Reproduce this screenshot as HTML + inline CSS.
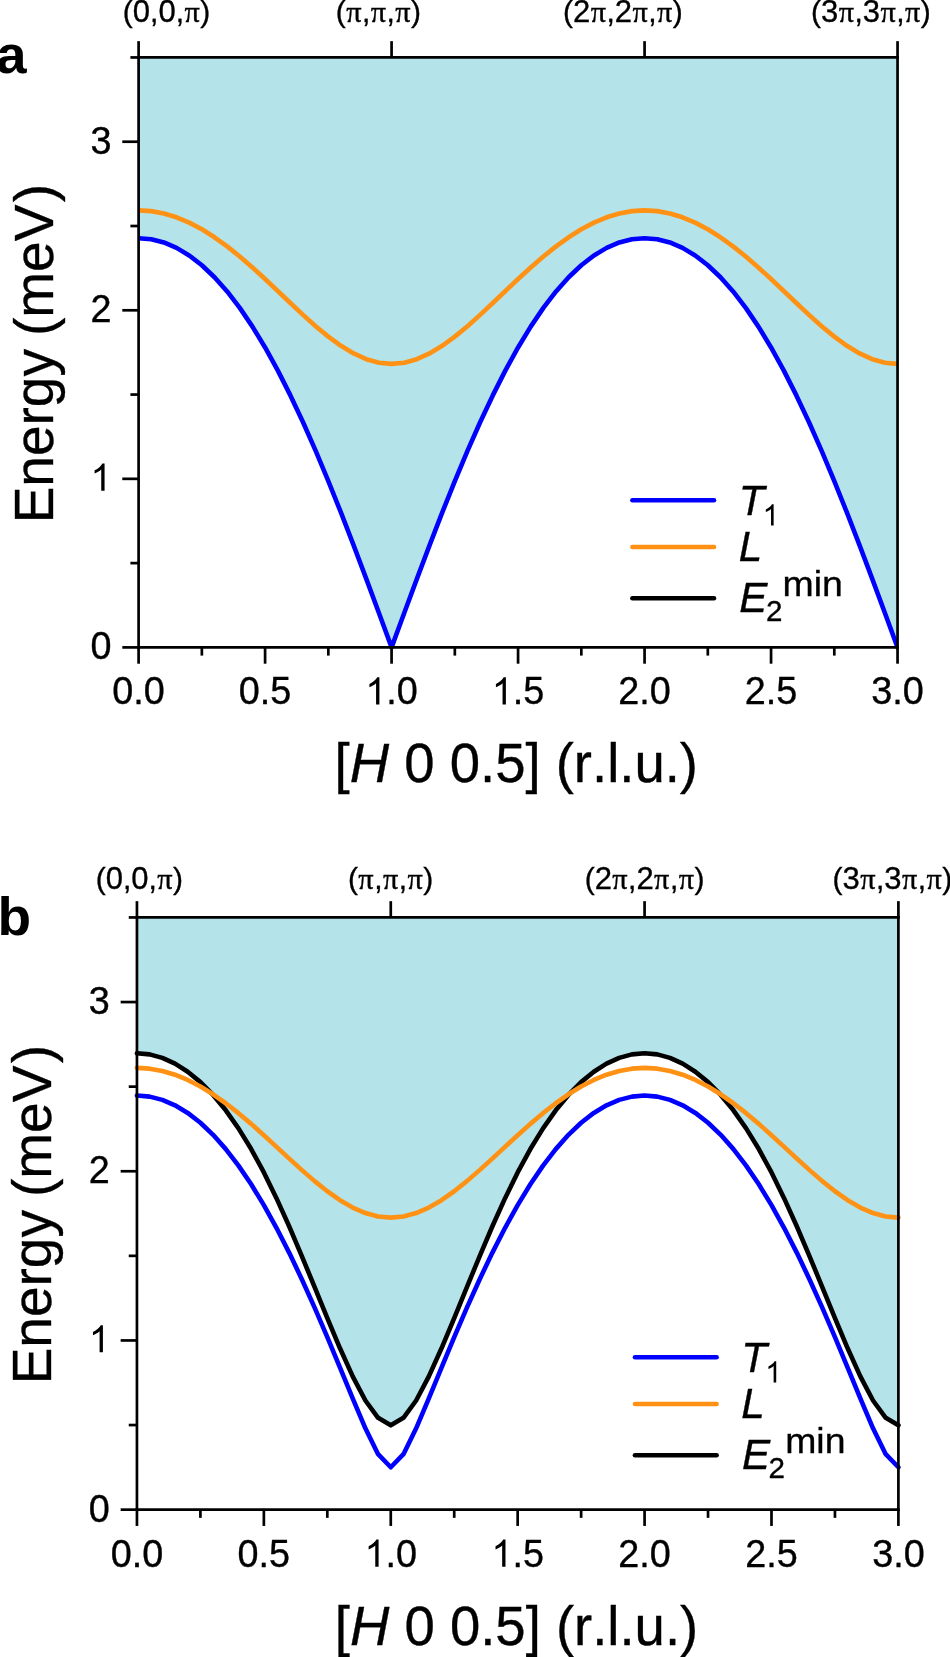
<!DOCTYPE html>
<html lang="en"><head><meta charset="utf-8"><title>Dispersion</title>
<style>
html,body{margin:0;padding:0;background:#fff;}
body{width:950px;height:1657px;overflow:hidden;font-family:"Liberation Sans",sans-serif;}
svg{display:block;will-change:transform;}
svg text{font-family:"Liberation Sans",sans-serif;fill:#000;font-kerning:none;}
</style></head><body>
<svg width="950" height="1657" viewBox="0 0 950 1657">
<rect width="950" height="1657" fill="#fff"/>
<g id="panel-a">
<path d="M138.6,57.45 L138.6,238.18 L151.25,239.26 L163.9,242.49 L176.55,247.88 L189.2,255.45 L201.85,265.23 L214.5,277.22 L227.14,291.45 L239.79,307.91 L252.44,326.59 L265.09,347.44 L277.74,370.41 L290.39,395.4 L303.04,422.29 L315.69,450.93 L328.34,481.13 L340.99,512.68 L353.64,545.36 L366.28,578.88 L378.93,613 L391.58,647.4 L404.23,613 L416.88,578.88 L429.53,545.36 L442.18,512.68 L454.83,481.13 L467.48,450.93 L480.13,422.29 L492.78,395.4 L505.43,370.41 L518.07,347.44 L530.72,326.59 L543.37,307.91 L556.02,291.45 L568.67,277.22 L581.32,265.23 L593.97,255.45 L606.62,247.88 L619.27,242.49 L631.92,239.26 L644.57,238.18 L657.22,239.26 L669.87,242.49 L682.51,247.88 L695.16,255.45 L707.81,265.23 L720.46,277.22 L733.11,291.45 L745.76,307.91 L758.41,326.59 L771.06,347.44 L783.71,370.41 L796.36,395.4 L809.01,422.29 L821.66,450.93 L834.3,481.13 L846.95,512.68 L859.6,545.36 L872.25,578.88 L884.9,613 L897.55,647.4 L897.55,57.45 Z" fill="#b4e4ea"/>
<clipPath id="clip-a"><rect x="138.6" y="52.45" width="758.95" height="599.95"/></clipPath>
<g clip-path="url(#clip-a)">
<path d="M138.6,210.35 L151.25,211.13 L163.9,213.46 L176.55,217.31 L189.2,222.61 L201.85,229.3 L214.5,237.27 L227.14,246.39 L239.79,256.52 L252.44,267.47 L265.09,279.03 L277.74,290.97 L290.39,303.02 L303.04,314.86 L315.69,326.19 L328.34,336.63 L340.99,345.84 L353.64,353.45 L366.28,359.16 L378.93,362.69 L391.58,363.89 L404.23,362.69 L416.88,359.16 L429.53,353.45 L442.18,345.84 L454.83,336.63 L467.48,326.19 L480.13,314.86 L492.78,303.02 L505.43,290.97 L518.07,279.03 L530.72,267.47 L543.37,256.52 L556.02,246.39 L568.67,237.27 L581.32,229.3 L593.97,222.61 L606.62,217.31 L619.27,213.46 L631.92,211.13 L644.57,210.35 L657.22,211.13 L669.87,213.46 L682.51,217.31 L695.16,222.61 L707.81,229.3 L720.46,237.27 L733.11,246.39 L745.76,256.52 L758.41,267.47 L771.06,279.03 L783.71,290.97 L796.36,303.02 L809.01,314.86 L821.66,326.19 L834.3,336.63 L846.95,345.84 L859.6,353.45 L872.25,359.16 L884.9,362.69 L897.55,363.89" fill="none" stroke="#ff9214" stroke-width="4.6" stroke-linejoin="round" stroke-linecap="round"/>
<path d="M138.6,238.18 L151.25,239.26 L163.9,242.49 L176.55,247.88 L189.2,255.45 L201.85,265.23 L214.5,277.22 L227.14,291.45 L239.79,307.91 L252.44,326.59 L265.09,347.44 L277.74,370.41 L290.39,395.4 L303.04,422.29 L315.69,450.93 L328.34,481.13 L340.99,512.68 L353.64,545.36 L366.28,578.88 L378.93,613 L391.58,647.4 L404.23,613 L416.88,578.88 L429.53,545.36 L442.18,512.68 L454.83,481.13 L467.48,450.93 L480.13,422.29 L492.78,395.4 L505.43,370.41 L518.07,347.44 L530.72,326.59 L543.37,307.91 L556.02,291.45 L568.67,277.22 L581.32,265.23 L593.97,255.45 L606.62,247.88 L619.27,242.49 L631.92,239.26 L644.57,238.18 L657.22,239.26 L669.87,242.49 L682.51,247.88 L695.16,255.45 L707.81,265.23 L720.46,277.22 L733.11,291.45 L745.76,307.91 L758.41,326.59 L771.06,347.44 L783.71,370.41 L796.36,395.4 L809.01,422.29 L821.66,450.93 L834.3,481.13 L846.95,512.68 L859.6,545.36 L872.25,578.88 L884.9,613 L897.55,647.4" fill="none" stroke="#0000ff" stroke-width="4.6" stroke-linejoin="round" stroke-linecap="round"/>
</g>
<g stroke="#000" stroke-width="2.7" fill="none" stroke-linecap="butt">
<path d="M138.6,56.1 V648.75"/>
<path d="M897.55,56.1 V648.75"/>
<path d="M137.25,57.45 H898.9"/>
<path d="M137.25,647.4 H898.9"/>
<path d="M138.6,647.4 V663.7"/>
<path d="M201.85,647.4 V655.6"/>
<path d="M265.09,647.4 V663.7"/>
<path d="M328.34,647.4 V655.6"/>
<path d="M391.58,647.4 V663.7"/>
<path d="M454.83,647.4 V655.6"/>
<path d="M518.07,647.4 V663.7"/>
<path d="M581.32,647.4 V655.6"/>
<path d="M644.57,647.4 V663.7"/>
<path d="M707.81,647.4 V655.6"/>
<path d="M771.06,647.4 V663.7"/>
<path d="M834.3,647.4 V655.6"/>
<path d="M897.55,647.4 V663.7"/>
<path d="M138.6,57.45 V41.15"/>
<path d="M391.58,57.45 V41.15"/>
<path d="M644.57,57.45 V41.15"/>
<path d="M897.55,57.45 V41.15"/>
<path d="M138.6,647.4 H122.3"/>
<path d="M138.6,563.12 H130.4"/>
<path d="M138.6,478.84 H122.3"/>
<path d="M138.6,394.56 H130.4"/>
<path d="M138.6,310.29 H122.3"/>
<path d="M138.6,226.01 H130.4"/>
<path d="M138.6,141.73 H122.3"/>
<path d="M138.6,57.45 H130.4"/>
</g>
<text transform="translate(138.6,704.4) scale(1,1.05)" font-size="37.8" text-anchor="middle" stroke="#000" stroke-width="0.35">0.0</text>
<text transform="translate(265.09,704.4) scale(1,1.05)" font-size="37.8" text-anchor="middle" stroke="#000" stroke-width="0.35">0.5</text>
<path transform="translate(365.31,704.4) scale(0.01846,-0.01846)" d="M763 0H583V1147Q518 1085 412.5 1023T223 930V1104Q373 1174.5 485.5 1275T644 1470H763Z" fill="#000"/>
<text transform="translate(386.33,704.4) scale(1,1.05)" font-size="37.8" text-anchor="start" stroke="#000" stroke-width="0.35">.0</text>
<path transform="translate(491.8,704.4) scale(0.01846,-0.01846)" d="M763 0H583V1147Q518 1085 412.5 1023T223 930V1104Q373 1174.5 485.5 1275T644 1470H763Z" fill="#000"/>
<text transform="translate(512.82,704.4) scale(1,1.05)" font-size="37.8" text-anchor="start" stroke="#000" stroke-width="0.35">.5</text>
<text transform="translate(644.57,704.4) scale(1,1.05)" font-size="37.8" text-anchor="middle" stroke="#000" stroke-width="0.35">2.0</text>
<text transform="translate(771.06,704.4) scale(1,1.05)" font-size="37.8" text-anchor="middle" stroke="#000" stroke-width="0.35">2.5</text>
<text transform="translate(897.55,704.4) scale(1,1.05)" font-size="37.8" text-anchor="middle" stroke="#000" stroke-width="0.35">3.0</text>
<text transform="translate(111.5,659.3) scale(1,1.05)" font-size="37.8" text-anchor="end" stroke="#000" stroke-width="0.35">0</text>
<path transform="translate(90.48,490.74) scale(0.01846,-0.01846)" d="M763 0H583V1147Q518 1085 412.5 1023T223 930V1104Q373 1174.5 485.5 1275T644 1470H763Z" fill="#000"/>
<text transform="translate(111.5,322.19) scale(1,1.05)" font-size="37.8" text-anchor="end" stroke="#000" stroke-width="0.35">2</text>
<text transform="translate(111.5,153.63) scale(1,1.05)" font-size="37.8" text-anchor="end" stroke="#000" stroke-width="0.35">3</text>
<text transform="translate(166.5,21.9)" font-size="30" text-anchor="middle" stroke="#000" stroke-width="0.35">(<tspan font-size="31">0</tspan>,<tspan font-size="31">0</tspan>,<tspan font-family="Liberation Serif" font-size="30.3" dx="0.4" letter-spacing="0.5">π</tspan>)</text>
<text transform="translate(378.4,21.9)" font-size="30" text-anchor="middle" stroke="#000" stroke-width="0.35">(<tspan font-family="Liberation Serif" font-size="30.3" dx="0.4" letter-spacing="0.5">π</tspan>,<tspan font-family="Liberation Serif" font-size="30.3" dx="0.4" letter-spacing="0.5">π</tspan>,<tspan font-family="Liberation Serif" font-size="30.3" dx="0.4" letter-spacing="0.5">π</tspan>)</text>
<text transform="translate(622.9,21.9)" font-size="30" text-anchor="middle" stroke="#000" stroke-width="0.35">(<tspan font-size="31">2</tspan><tspan font-family="Liberation Serif" font-size="30.3" dx="0.4" letter-spacing="0.5">π</tspan>,<tspan font-size="31">2</tspan><tspan font-family="Liberation Serif" font-size="30.3" dx="0.4" letter-spacing="0.5">π</tspan>,<tspan font-family="Liberation Serif" font-size="30.3" dx="0.4" letter-spacing="0.5">π</tspan>)</text>
<text transform="translate(870.9,21.9)" font-size="30" text-anchor="middle" stroke="#000" stroke-width="0.35">(<tspan font-size="31">3</tspan><tspan font-family="Liberation Serif" font-size="30.3" dx="0.4" letter-spacing="0.5">π</tspan>,<tspan font-size="31">3</tspan><tspan font-family="Liberation Serif" font-size="30.3" dx="0.4" letter-spacing="0.5">π</tspan>,<tspan font-family="Liberation Serif" font-size="30.3" dx="0.4" letter-spacing="0.5">π</tspan>)</text>
<text transform="translate(-4,73.3) scale(1,0.97)" font-size="55" text-anchor="start" font-weight="bold">a</text>
<text transform="translate(516.3,782.3) scale(1,1.01)" font-size="54.5" text-anchor="middle" stroke="#000" stroke-width="0.35">[<tspan font-style="italic">H</tspan> 0 0.5] (r.l.u.)</text>
<text transform="translate(53.3,353.6) rotate(-90)" font-size="55" text-anchor="middle" stroke="#000" stroke-width="0.35">Energy <tspan dx="-2.2">(meV</tspan><tspan dx="2.4">)</tspan></text>
<path d="M632.4,500.25 H714" stroke="#0000ff" stroke-width="4.6" fill="none" stroke-linecap="round"/>
<path d="M632.4,547 H714" stroke="#ff9214" stroke-width="4.6" fill="none" stroke-linecap="round"/>
<path d="M632.4,598.2 H714" stroke="#000000" stroke-width="4.6" fill="none" stroke-linecap="round"/>
<text transform="translate(738.7,514.6) scale(1,1.01)" font-size="42.2" text-anchor="start" stroke="#000" stroke-width="0.35" font-style="italic">T</text>
<path transform="translate(762.6,525.5) scale(0.01445,-0.01445)" d="M763 0H583V1147Q518 1085 412.5 1023T223 930V1104Q373 1174.5 485.5 1275T644 1470H763Z" fill="#000"/>
<text transform="translate(738.7,560.9) scale(1,1.01)" font-size="42.2" text-anchor="start" stroke="#000" stroke-width="0.35" font-style="italic">L</text>
<text transform="translate(739.3,611.5) scale(1,1.01)" font-size="42.2" text-anchor="start" stroke="#000" stroke-width="0.35" font-style="italic">E</text>
<text transform="translate(766,620.6) scale(1,0.98)" font-size="29.6" text-anchor="start" stroke="#000" stroke-width="0.35">2</text>
<text transform="translate(782.6,596.2) scale(1,0.95)" font-size="37.4" text-anchor="start" stroke="#000" stroke-width="0.35">min</text>
</g>
<g id="panel-b">
<path d="M136.95,917.45 L136.95,1053.23 L149.64,1054.39 L162.33,1057.86 L175.02,1063.63 L187.71,1071.71 L200.4,1082.13 L213.1,1094.97 L225.79,1110.33 L238.48,1128.34 L251.17,1149.05 L263.86,1172.46 L276.55,1198.39 L289.24,1226.51 L301.93,1256.32 L314.62,1287.13 L327.31,1318.11 L340,1348.27 L352.69,1376.35 L365.38,1400.51 L378.08,1417.8 L390.77,1425.31 L403.46,1417.8 L416.15,1400.51 L428.84,1376.35 L441.53,1348.27 L454.22,1318.11 L466.91,1287.13 L479.6,1256.32 L492.29,1226.51 L504.98,1198.39 L517.67,1172.46 L530.37,1149.05 L543.06,1128.34 L555.75,1110.33 L568.44,1094.97 L581.13,1082.13 L593.82,1071.71 L606.51,1063.63 L619.2,1057.86 L631.89,1054.39 L644.58,1053.23 L657.27,1054.39 L669.97,1057.86 L682.66,1063.63 L695.35,1071.71 L708.04,1082.13 L720.73,1094.97 L733.42,1110.33 L746.11,1128.34 L758.8,1149.05 L771.49,1172.46 L784.18,1198.39 L796.87,1226.51 L809.56,1256.32 L822.26,1287.13 L834.95,1318.11 L847.64,1348.27 L860.33,1376.35 L873.02,1400.51 L885.71,1417.8 L898.4,1425.31 L898.4,917.45 Z" fill="#b4e4ea"/>
<path d="M136.95,1095.55 L149.64,1096.63 L162.33,1099.88 L175.02,1105.31 L187.71,1112.94 L200.4,1122.78 L213.1,1134.83 L225.79,1149.11 L238.48,1165.61 L251.17,1184.3 L263.86,1205.12 L276.55,1228.01 L289.24,1252.83 L301.93,1279.45 L314.62,1307.65 L327.31,1337.17 L340,1367.62 L352.69,1398.4 L365.38,1428.32 L378.08,1454.16 L390.77,1467.23 L403.46,1454.16 L416.15,1428.32 L428.84,1398.4 L441.53,1367.62 L454.22,1337.17 L466.91,1307.65 L479.6,1279.45 L492.29,1252.83 L504.98,1228.01 L517.67,1205.12 L530.37,1184.3 L543.06,1165.61 L555.75,1149.11 L568.44,1134.83 L581.13,1122.78 L593.82,1112.94 L606.51,1105.31 L619.2,1099.88 L631.89,1096.63 L644.58,1095.55 L657.27,1096.63 L669.97,1099.88 L682.66,1105.31 L695.35,1112.94 L708.04,1122.78 L720.73,1134.83 L733.42,1149.11 L746.11,1165.61 L758.8,1184.3 L771.49,1205.12 L784.18,1228.01 L796.87,1252.83 L809.56,1279.45 L822.26,1307.65 L834.95,1337.17 L847.64,1367.62 L860.33,1398.4 L873.02,1428.32 L885.71,1454.16 L898.4,1467.23" fill="none" stroke="#0000ff" stroke-width="4.6" stroke-linejoin="round" stroke-linecap="round"/>
<path d="M136.95,1053.23 L149.64,1054.39 L162.33,1057.86 L175.02,1063.63 L187.71,1071.71 L200.4,1082.13 L213.1,1094.97 L225.79,1110.33 L238.48,1128.34 L251.17,1149.05 L263.86,1172.46 L276.55,1198.39 L289.24,1226.51 L301.93,1256.32 L314.62,1287.13 L327.31,1318.11 L340,1348.27 L352.69,1376.35 L365.38,1400.51 L378.08,1417.8 L390.77,1425.31 L403.46,1417.8 L416.15,1400.51 L428.84,1376.35 L441.53,1348.27 L454.22,1318.11 L466.91,1287.13 L479.6,1256.32 L492.29,1226.51 L504.98,1198.39 L517.67,1172.46 L530.37,1149.05 L543.06,1128.34 L555.75,1110.33 L568.44,1094.97 L581.13,1082.13 L593.82,1071.71 L606.51,1063.63 L619.2,1057.86 L631.89,1054.39 L644.58,1053.23 L657.27,1054.39 L669.97,1057.86 L682.66,1063.63 L695.35,1071.71 L708.04,1082.13 L720.73,1094.97 L733.42,1110.33 L746.11,1128.34 L758.8,1149.05 L771.49,1172.46 L784.18,1198.39 L796.87,1226.51 L809.56,1256.32 L822.26,1287.13 L834.95,1318.11 L847.64,1348.27 L860.33,1376.35 L873.02,1400.51 L885.71,1417.8 L898.4,1425.31" fill="none" stroke="#000000" stroke-width="4.6" stroke-linejoin="round" stroke-linecap="round"/>
<path d="M136.95,1067.88 L149.64,1068.65 L162.33,1070.93 L175.02,1074.71 L187.71,1079.92 L200.4,1086.48 L213.1,1094.3 L225.79,1103.25 L238.48,1113.17 L251.17,1123.88 L263.86,1135.19 L276.55,1146.84 L289.24,1158.59 L301.93,1170.12 L314.62,1181.12 L327.31,1191.25 L340,1200.17 L352.69,1207.54 L365.38,1213.05 L378.08,1216.46 L390.77,1217.61 L403.46,1216.46 L416.15,1213.05 L428.84,1207.54 L441.53,1200.17 L454.22,1191.25 L466.91,1181.12 L479.6,1170.12 L492.29,1158.59 L504.98,1146.84 L517.67,1135.19 L530.37,1123.88 L543.06,1113.17 L555.75,1103.25 L568.44,1094.3 L581.13,1086.48 L593.82,1079.92 L606.51,1074.71 L619.2,1070.93 L631.89,1068.65 L644.58,1067.88 L657.27,1068.65 L669.97,1070.93 L682.66,1074.71 L695.35,1079.92 L708.04,1086.48 L720.73,1094.3 L733.42,1103.25 L746.11,1113.17 L758.8,1123.88 L771.49,1135.19 L784.18,1146.84 L796.87,1158.59 L809.56,1170.12 L822.26,1181.12 L834.95,1191.25 L847.64,1200.17 L860.33,1207.54 L873.02,1213.05 L885.71,1216.46 L898.4,1217.61" fill="none" stroke="#ff9214" stroke-width="4.6" stroke-linejoin="round" stroke-linecap="round"/>
<g stroke="#000" stroke-width="2.7" fill="none" stroke-linecap="butt">
<path d="M136.95,916.1 V1511"/>
<path d="M898.4,916.1 V1511"/>
<path d="M135.6,917.45 H899.75"/>
<path d="M135.6,1509.65 H899.75"/>
<path d="M136.95,1509.65 V1525.95"/>
<path d="M200.4,1509.65 V1517.85"/>
<path d="M263.86,1509.65 V1525.95"/>
<path d="M327.31,1509.65 V1517.85"/>
<path d="M390.77,1509.65 V1525.95"/>
<path d="M454.22,1509.65 V1517.85"/>
<path d="M517.67,1509.65 V1525.95"/>
<path d="M581.13,1509.65 V1517.85"/>
<path d="M644.58,1509.65 V1525.95"/>
<path d="M708.04,1509.65 V1517.85"/>
<path d="M771.49,1509.65 V1525.95"/>
<path d="M834.95,1509.65 V1517.85"/>
<path d="M898.4,1509.65 V1525.95"/>
<path d="M136.95,917.45 V901.15"/>
<path d="M390.77,917.45 V901.15"/>
<path d="M644.58,917.45 V901.15"/>
<path d="M898.4,917.45 V901.15"/>
<path d="M136.95,1509.65 H120.65"/>
<path d="M136.95,1425.05 H128.75"/>
<path d="M136.95,1340.45 H120.65"/>
<path d="M136.95,1255.85 H128.75"/>
<path d="M136.95,1171.25 H120.65"/>
<path d="M136.95,1086.65 H128.75"/>
<path d="M136.95,1002.05 H120.65"/>
<path d="M136.95,917.45 H128.75"/>
</g>
<text transform="translate(136.95,1566.65) scale(1,1.05)" font-size="37.8" text-anchor="middle" stroke="#000" stroke-width="0.35">0.0</text>
<text transform="translate(263.86,1566.65) scale(1,1.05)" font-size="37.8" text-anchor="middle" stroke="#000" stroke-width="0.35">0.5</text>
<path transform="translate(364.5,1566.65) scale(0.01846,-0.01846)" d="M763 0H583V1147Q518 1085 412.5 1023T223 930V1104Q373 1174.5 485.5 1275T644 1470H763Z" fill="#000"/>
<text transform="translate(385.51,1566.65) scale(1,1.05)" font-size="37.8" text-anchor="start" stroke="#000" stroke-width="0.35">.0</text>
<path transform="translate(491.4,1566.65) scale(0.01846,-0.01846)" d="M763 0H583V1147Q518 1085 412.5 1023T223 930V1104Q373 1174.5 485.5 1275T644 1470H763Z" fill="#000"/>
<text transform="translate(512.42,1566.65) scale(1,1.05)" font-size="37.8" text-anchor="start" stroke="#000" stroke-width="0.35">.5</text>
<text transform="translate(644.58,1566.65) scale(1,1.05)" font-size="37.8" text-anchor="middle" stroke="#000" stroke-width="0.35">2.0</text>
<text transform="translate(771.49,1566.65) scale(1,1.05)" font-size="37.8" text-anchor="middle" stroke="#000" stroke-width="0.35">2.5</text>
<text transform="translate(898.4,1566.65) scale(1,1.05)" font-size="37.8" text-anchor="middle" stroke="#000" stroke-width="0.35">3.0</text>
<text transform="translate(109.85,1521.55) scale(1,1.05)" font-size="37.8" text-anchor="end" stroke="#000" stroke-width="0.35">0</text>
<path transform="translate(88.83,1352.35) scale(0.01846,-0.01846)" d="M763 0H583V1147Q518 1085 412.5 1023T223 930V1104Q373 1174.5 485.5 1275T644 1470H763Z" fill="#000"/>
<text transform="translate(109.85,1183.15) scale(1,1.05)" font-size="37.8" text-anchor="end" stroke="#000" stroke-width="0.35">2</text>
<text transform="translate(109.85,1013.95) scale(1,1.05)" font-size="37.8" text-anchor="end" stroke="#000" stroke-width="0.35">3</text>
<text transform="translate(139.4,889)" font-size="30" text-anchor="middle" stroke="#000" stroke-width="0.35">(<tspan font-size="31">0</tspan>,<tspan font-size="31">0</tspan>,<tspan font-family="Liberation Serif" font-size="30.3" dx="0.4" letter-spacing="0.5">π</tspan>)</text>
<text transform="translate(390.6,889)" font-size="30" text-anchor="middle" stroke="#000" stroke-width="0.35">(<tspan font-family="Liberation Serif" font-size="30.3" dx="0.4" letter-spacing="0.5">π</tspan>,<tspan font-family="Liberation Serif" font-size="30.3" dx="0.4" letter-spacing="0.5">π</tspan>,<tspan font-family="Liberation Serif" font-size="30.3" dx="0.4" letter-spacing="0.5">π</tspan>)</text>
<text transform="translate(644.55,889)" font-size="30" text-anchor="middle" stroke="#000" stroke-width="0.35">(<tspan font-size="31">2</tspan><tspan font-family="Liberation Serif" font-size="30.3" dx="0.4" letter-spacing="0.5">π</tspan>,<tspan font-size="31">2</tspan><tspan font-family="Liberation Serif" font-size="30.3" dx="0.4" letter-spacing="0.5">π</tspan>,<tspan font-family="Liberation Serif" font-size="30.3" dx="0.4" letter-spacing="0.5">π</tspan>)</text>
<text transform="translate(892.4,889)" font-size="30" text-anchor="middle" stroke="#000" stroke-width="0.35">(<tspan font-size="31">3</tspan><tspan font-family="Liberation Serif" font-size="30.3" dx="0.4" letter-spacing="0.5">π</tspan>,<tspan font-size="31">3</tspan><tspan font-family="Liberation Serif" font-size="30.3" dx="0.4" letter-spacing="0.5">π</tspan>,<tspan font-family="Liberation Serif" font-size="30.3" dx="0.4" letter-spacing="0.5">π</tspan>)</text>
<text transform="translate(-2.5,935.2) scale(1,0.97)" font-size="55" text-anchor="start" font-weight="bold">b</text>
<text transform="translate(516.5,1645.3) scale(1,1.01)" font-size="54.5" text-anchor="middle" stroke="#000" stroke-width="0.35">[<tspan font-style="italic">H</tspan> 0 0.5] (r.l.u.)</text>
<text transform="translate(51.3,1214.6) rotate(-90)" font-size="55" text-anchor="middle" stroke="#000" stroke-width="0.35">Energy <tspan dx="-2.2">(meV</tspan><tspan dx="2.4">)</tspan></text>
<path d="M635,1357.25 H716.6" stroke="#0000ff" stroke-width="4.6" fill="none" stroke-linecap="round"/>
<path d="M635,1404 H716.6" stroke="#ff9214" stroke-width="4.6" fill="none" stroke-linecap="round"/>
<path d="M635,1455.2 H716.6" stroke="#000000" stroke-width="4.6" fill="none" stroke-linecap="round"/>
<text transform="translate(741.3,1371.6) scale(1,1.01)" font-size="42.2" text-anchor="start" stroke="#000" stroke-width="0.35" font-style="italic">T</text>
<path transform="translate(765.2,1382.5) scale(0.01445,-0.01445)" d="M763 0H583V1147Q518 1085 412.5 1023T223 930V1104Q373 1174.5 485.5 1275T644 1470H763Z" fill="#000"/>
<text transform="translate(741.3,1417.9) scale(1,1.01)" font-size="42.2" text-anchor="start" stroke="#000" stroke-width="0.35" font-style="italic">L</text>
<text transform="translate(741.9,1468.5) scale(1,1.01)" font-size="42.2" text-anchor="start" stroke="#000" stroke-width="0.35" font-style="italic">E</text>
<text transform="translate(768.6,1477.6) scale(1,0.98)" font-size="29.6" text-anchor="start" stroke="#000" stroke-width="0.35">2</text>
<text transform="translate(785.2,1453.2) scale(1,0.95)" font-size="37.4" text-anchor="start" stroke="#000" stroke-width="0.35">min</text>
</g>
</svg>
</body></html>
